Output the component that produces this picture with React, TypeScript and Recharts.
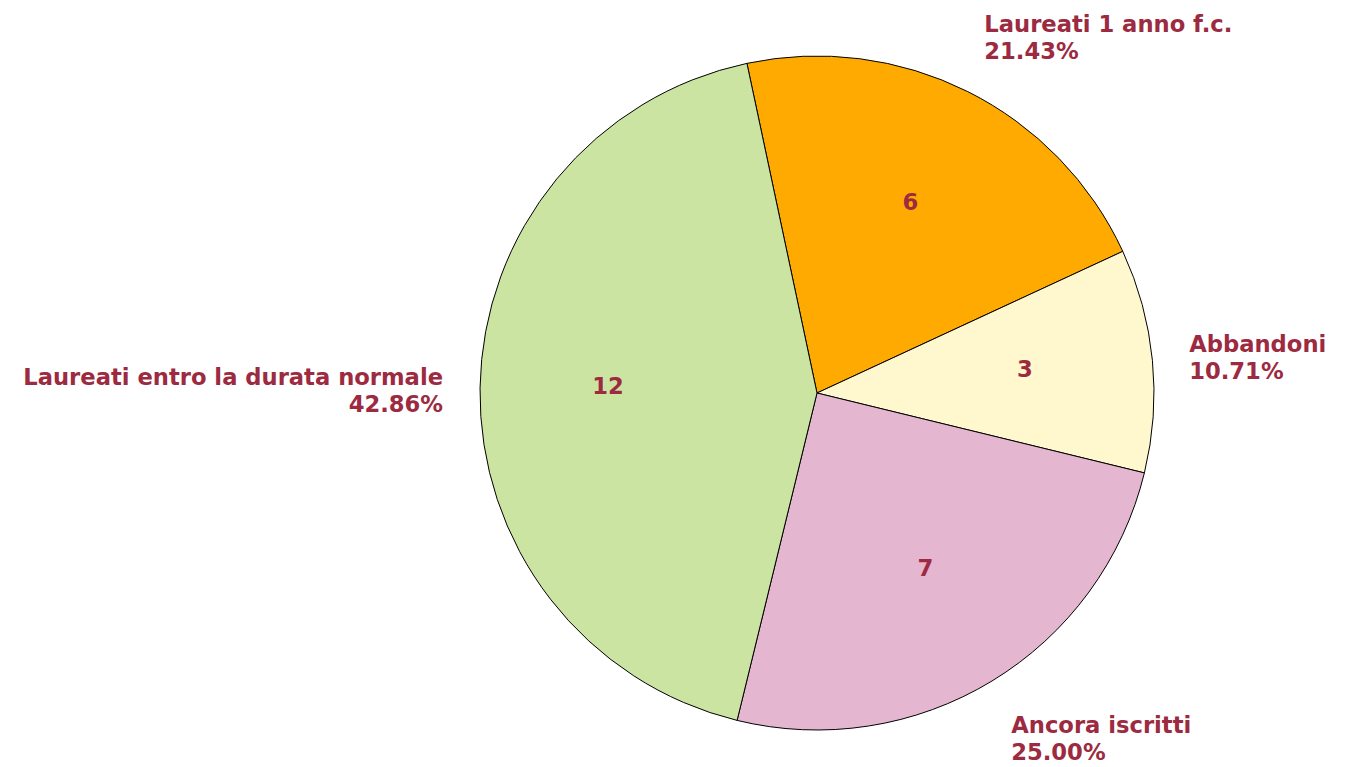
import { PieChart, Pie, Cell } from 'recharts';

const categories = [
  'Laureati 1 anno f.c.',
  'Abbandoni',
  'Ancora iscritti',
  'Laureati entro la durata normale',
];
const counts = [6, 3, 7, 12];
const sliceColors = ['#FFAA00', '#FFF8CE', '#E5B6CF', '#CCE4A2'];

const data = categories.map((name, i) => ({ name, value: counts[i] }));

const RAD = Math.PI / 180;
const TEXT = '#9C2A40';
const FONT = '"DejaVu Sans", Verdana, sans-serif';

function renderLabel(props: any) {
  const { cx, cy, midAngle, outerRadius, percent, value, name } = props;
  const cos = Math.cos(-midAngle * RAD);
  const sin = Math.sin(-midAngle * RAD);

  // value inside the slice
  const ir = outerRadius * 0.62;
  const ix = cx + ir * cos;
  const iy = cy + ir * sin - 4;

  // name + percent outside
  const or = outerRadius + 37;
  const ox = cx + or * cos;
  const oy = cy + or * sin;
  const center = oy + 3 + sin * 27;
  const anchor = cos >= 0 ? 'start' : 'end';

  return (
    <g>
      <text
        x={ix}
        y={iy}
        textAnchor="middle"
        dominantBaseline="central"
        fill={TEXT}
        fontFamily={FONT}
        fontWeight="bold"
        fontSize={22.67}
      >
        {value}
      </text>
      <text
        textAnchor={anchor}
        fill={TEXT}
        fontFamily={FONT}
        fontWeight="bold"
        fontSize={22.67}
      >
        <tspan x={ox} y={center - 13.5} dominantBaseline="central">
          {name}
        </tspan>
        <tspan x={ox} y={center + 13.5} dominantBaseline="central">
          {(percent * 100).toFixed(2)}%
        </tspan>
      </text>
    </g>
  );
}

export default function App() {
  return (
    <div style={{ position: 'absolute', left: 0, top: 0, background: '#fff' }}>
      <PieChart width={1360} height={767}>
        <Pie
          data={data}
          dataKey="value"
          nameKey="name"
          cx={812}
          cy={388}
          outerRadius={337}
          startAngle={102}
          endAngle={-258}
          stroke="#000"
          strokeWidth={1}
          label={renderLabel}
          labelLine={false}
          isAnimationActive={false}
        >
          {data.map((d, i) => (
            <Cell key={d.name} fill={sliceColors[i]} />
          ))}
        </Pie>
      </PieChart>
    </div>
  );
}
